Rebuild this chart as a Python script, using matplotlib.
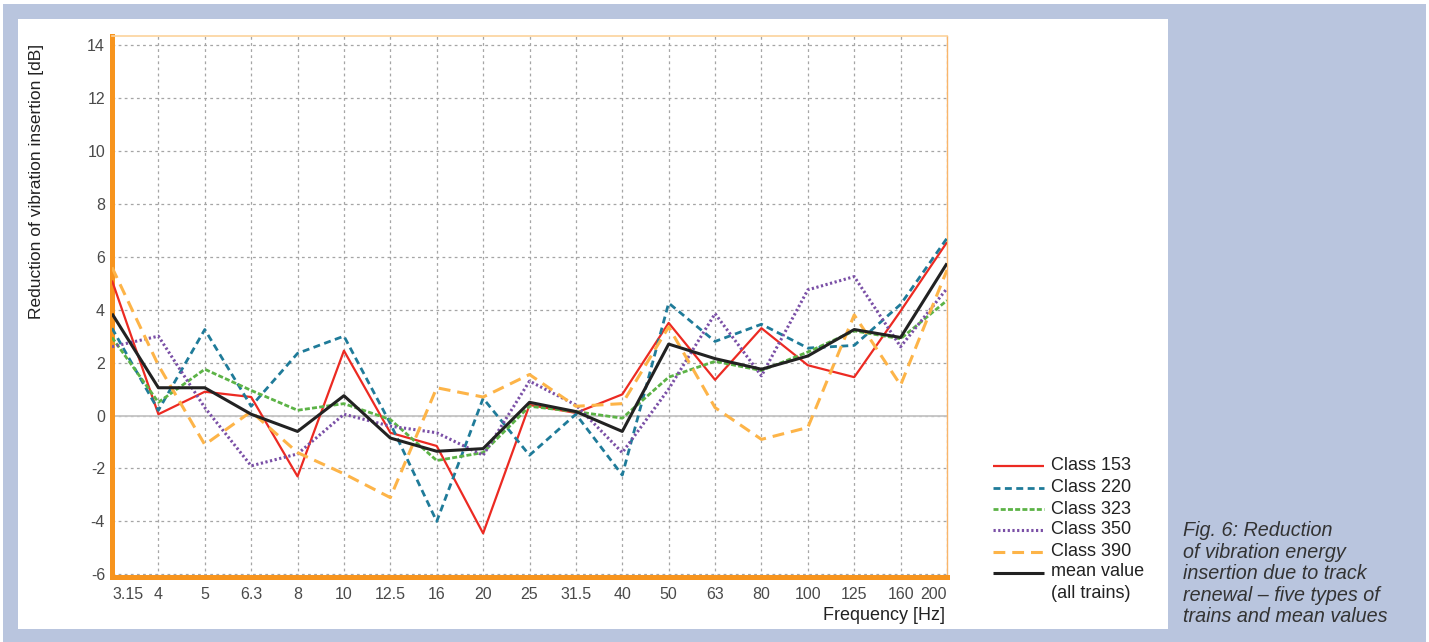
import matplotlib
matplotlib.use("Agg")
import matplotlib.pyplot as plt
from matplotlib.lines import Line2D
from matplotlib.patches import Rectangle

# Third-octave band centre frequencies [Hz]
frequencies = ["3.15", "4", "5", "6.3", "8", "10", "12.5", "16", "20", "25",
               "31.5", "40", "50", "63", "80", "100", "125", "160", "200"]

# Reduction of vibration insertion [dB] per train class
class_153 = [5.1, 0.05, 0.9, 0.7, -2.3, 2.45, -0.65, -1.15, -4.45, 0.4,
             0.1, 0.8, 3.5, 1.35, 3.3, 1.9, 1.45, 3.95, 6.55]
class_220 = [3.3, 0.2, 3.25, 0.35, 2.35, 3.0, -0.3, -4.0, 0.65, -1.5,
             0.05, -2.25, 4.25, 2.8, 3.45, 2.55, 2.65, 4.2, 6.7]
class_323 = [2.95, 0.5, 1.75, 0.95, 0.2, 0.45, -0.15, -1.7, -1.4, 0.35,
             0.15, -0.1, 1.45, 2.05, 1.7, 2.4, 3.2, 2.9, 4.35]
class_350 = [2.6, 3.0, 0.3, -1.9, -1.45, 0.05, -0.4, -0.65, -1.5, 1.3,
             0.4, -1.4, 1.0, 3.85, 1.5, 4.75, 5.25, 2.6, 4.8]
class_390 = [5.6, 1.9, -1.1, 0.15, -1.4, -2.2, -3.1, 1.05, 0.7, 1.55,
             0.35, 0.45, 3.35, 0.3, -0.9, -0.45, 3.8, 1.15, 5.5]
mean_all = [3.85, 1.05, 1.05, 0.05, -0.6, 0.75, -0.85, -1.35, -1.25, 0.5,
            0.15, -0.6, 2.7, 2.15, 1.75, 2.25, 3.25, 2.95, 5.75]

y_ticks = [-6, -4, -2, 0, 2, 4, 6, 8, 10, 12, 14]

series_labels = ["Class 153", "Class 220", "Class 323", "Class 350",
                 "Class 390", "mean value\n(all trains)"]

plt.rcParams["lines.scale_dashes"] = False
NARROW = ["Liberation Sans Narrow", "Liberation Sans", "DejaVu Sans"]
REGULAR = ["Liberation Sans", "DejaVu Sans"]

styles = [
    dict(color="#ec2a22", lw=1.6, ls="-"),
    dict(color="#1f7b99", lw=2.0, ls=(0, (5.0, 3.2))),
    dict(color="#5cb346", lw=2.0, ls=(0, (3.6, 1.6))),
    dict(color="#7a4fa6", lw=2.2, ls=(0, (1.6, 1.8))),
    dict(color="#fdb448", lw=2.2, ls=(0, (8.5, 5.0))),
    dict(color="#222222", lw=2.2, ls="-"),
]
series = [class_153, class_220, class_323, class_350, class_390, mean_all]

W, H = 1429, 642
fig = plt.figure(figsize=(W / 100, H / 100), dpi=100, facecolor="white")


def fx(px):
    return px / W


def fy(py):
    return 1 - py / H


# Page background and white panel
fig.add_artist(Rectangle((fx(3), 0), fx(1426) - fx(3), fy(4), transform=fig.transFigure,
                         facecolor="#b9c5de", edgecolor="none", zorder=-10))
fig.add_artist(Rectangle((fx(18), fy(629)), fx(1168) - fx(18), fy(19) - fy(629),
                         transform=fig.transFigure, facecolor="white",
                         edgecolor="none", zorder=-9))

ax = fig.add_axes([fx(112), fy(577), fx(947) - fx(112), fy(36) - fy(577)])
ax.set_facecolor("none")

x = list(range(len(frequencies)))
for vals, st in zip(series, styles):
    ax.plot(x, vals, color=st["color"], lw=st["lw"], linestyle=st["ls"],
            solid_capstyle="butt", dash_capstyle="butt", zorder=3)

ax.set_xlim(0, len(frequencies) - 1)
ax.set_ylim(-6.1, 14.34)
ax.set_xticks(x)
ax.set_xticklabels(frequencies)
ax.set_yticks(y_ticks)
ax.set_yticklabels([str(v) for v in y_ticks])

ax.grid(True, color="#a5a5a5", lw=0.9, linestyle=(0, (2.0, 2.4)), zorder=1)
ax.axhline(0, color="#c4c4c4", lw=1.3, zorder=2)

ax.tick_params(axis="both", length=0, labelsize=11.5, labelcolor="#4a4a4a")
ax.tick_params(axis="x", pad=7)
ax.tick_params(axis="y", pad=5)
for lab in ax.get_xticklabels() + ax.get_yticklabels():
    lab.set_fontfamily(NARROW)
xt = ax.get_xticklabels()
xt[0].set_ha("left")
xt[-1].set_ha("right")

ax.spines["left"].set_color("#f7941d")
ax.spines["left"].set_linewidth(3.6)
ax.spines["bottom"].set_color("#f7941d")
ax.spines["bottom"].set_linewidth(3.6)
ax.spines["top"].set_color("#fcd39c")
ax.spines["top"].set_linewidth(1.2)
ax.spines["right"].set_color("#f9b56a")
ax.spines["right"].set_linewidth(1.0)

fig.text(fx(37), fy(181), "Reduction of vibration insertion [dB]", rotation=90,
         ha="center", va="center", fontsize=12.5, color="#222222", family=NARROW)
fig.text(fx(945), fy(615), "Frequency [Hz]", ha="right", va="center",
         fontsize=13, color="#222222", family=NARROW)

# Legend drawn row by row
row_y = [466, 488, 509, 530, 552, 573]
for (st, lab, ry) in zip(styles, series_labels, row_y):
    fig.add_artist(Line2D([fx(993), fx(1044)], [fy(ry), fy(ry)], transform=fig.transFigure,
                          color=st["color"], lw=st["lw"], linestyle=st["ls"],
                          solid_capstyle="butt", dash_capstyle="butt"))
    fig.text(fx(1051), fy(ry), lab, ha="left", va="center" if "\n" not in lab else "top",
             fontsize=13, color="#222222", family=NARROW, linespacing=1.35)
fig.texts[-1].set_position((fx(1051), fy(573 - 10)))

caption = ("Fig. 6: Reduction\nof vibration energy\ninsertion due to track\n"
           "renewal \u2013 five types of\ntrains and mean values")
fig.text(fx(1183), fy(521), caption, ha="left", va="top", fontsize=14.2,
         style="italic", color="#333333", family=REGULAR, linespacing=1.17)

fig.savefig("out.png", dpi=100, facecolor=fig.get_facecolor())
